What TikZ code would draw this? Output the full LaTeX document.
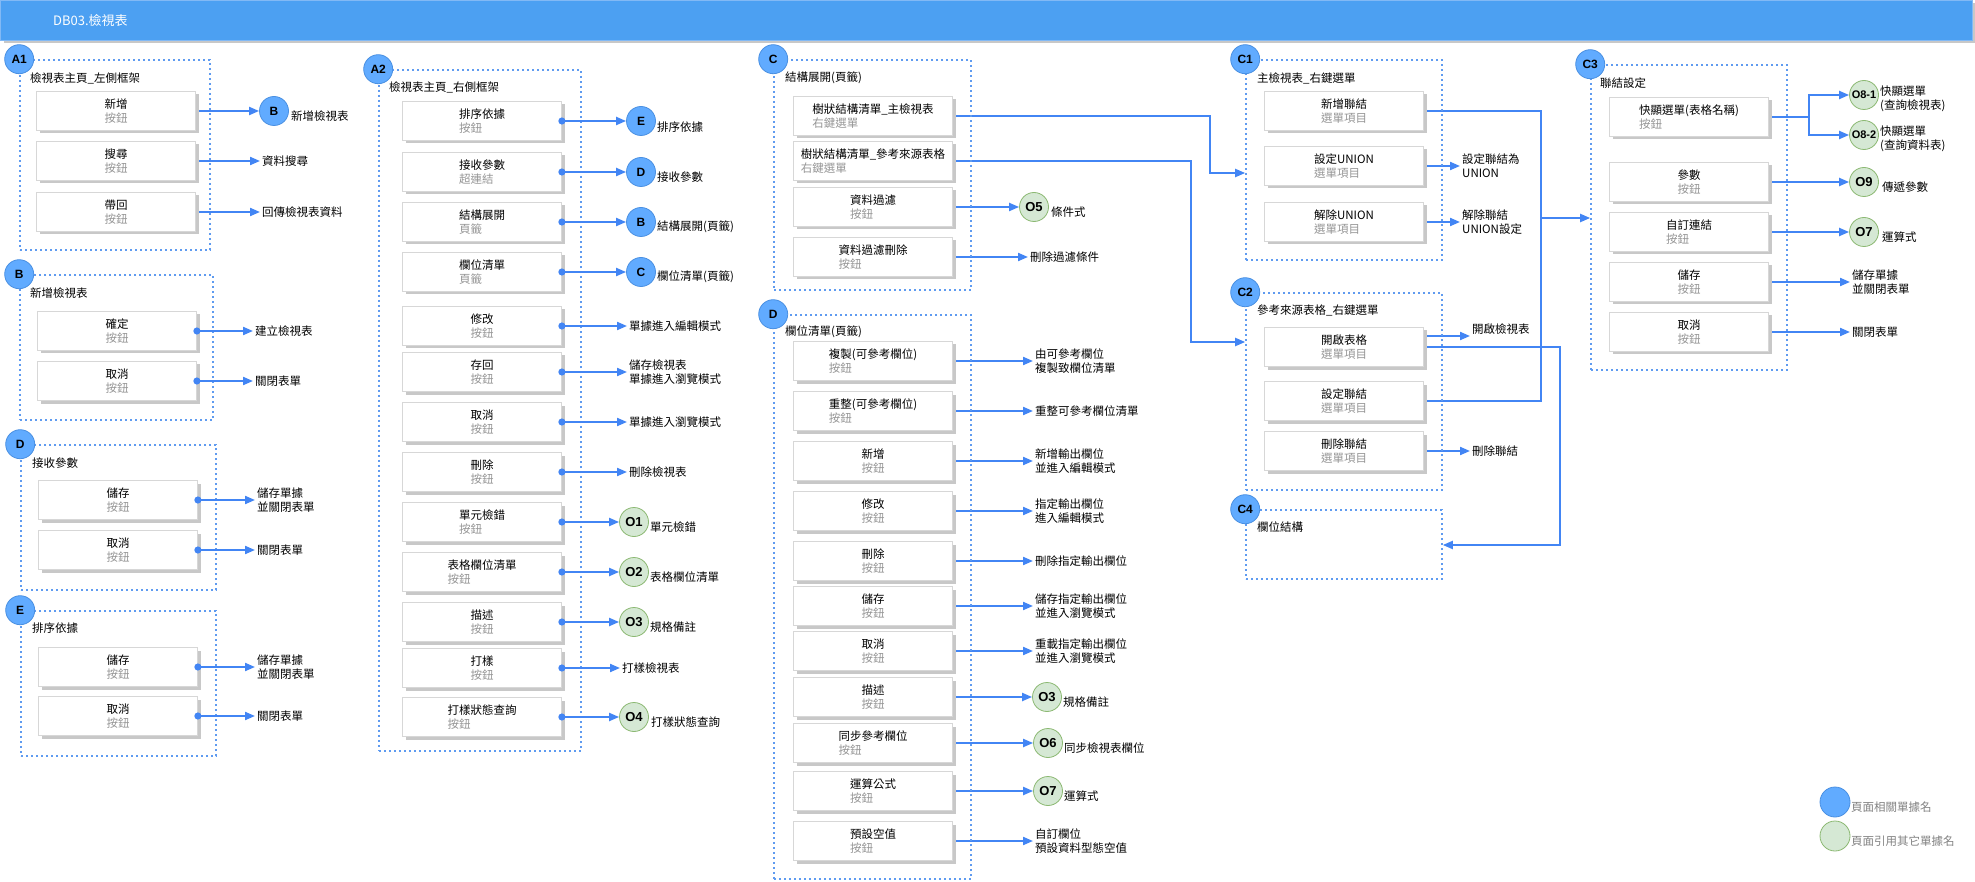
\documentclass[tikz,border=0pt]{standalone}
\usepackage{fontspec}
\setmainfont{Noto Sans CJK TC}
\newfontfamily\circfont{Liberation Sans}
\usetikzlibrary{arrows.meta,shadows,fit,calc}
\pgfdeclarelayer{background}
\pgfsetlayers{background,main}
\definecolor{hdrblue}{RGB}{76,160,242}
\definecolor{hdredge}{RGB}{130,185,245}
\definecolor{grpblue}{RGB}{95,155,240}
\definecolor{cblue}{RGB}{97,171,255}
\definecolor{cblueedge}{RGB}{74,144,226}
\definecolor{cgreen}{RGB}{213,232,212}
\definecolor{cgreenedge}{RGB}{140,185,115}
\definecolor{connc}{RGB}{66,133,244}
\definecolor{boxedge}{RGB}{215,215,215}
\definecolor{boxshadow}{RGB}{200,200,200}
\definecolor{subgray}{RGB}{150,150,150}
\definecolor{leggray}{RGB}{130,130,130}
\tikzset{
  every node/.style={font=\fontsize{11.5}{14}\selectfont},
  grp/.style={draw=grpblue, line width=1.6pt, dash pattern=on 1.6pt off 3.4pt, inner sep=0pt},
  btn/.style={draw=boxedge, fill=white, line width=0.8pt, minimum width=159pt, minimum height=39pt, inner sep=1pt, align=left,
     drop shadow={shadow xshift=3pt, shadow yshift=-3pt, fill=boxshadow, opacity=1}},
  bcirc/.style={circle, draw=cblueedge, fill=cblue, line width=0.8pt, minimum size=29pt, inner sep=0pt, font=\circfont\bfseries\fontsize{12}{12}\selectfont},
  gcirc/.style={circle, draw=cgreenedge, fill=cgreen, line width=0.8pt, minimum size=29pt, inner sep=0pt, font=\circfont\bfseries\fontsize{13}{13}\selectfont},
  ttl/.style={anchor=west, inner sep=0pt},
  lbl/.style={anchor=west, inner xsep=2pt, inner ysep=0pt, align=left},
  conn/.style={draw=connc, line width=2pt, shorten <=-3.5pt, {Circle[length=7pt]}-{Triangle[length=10pt,width=8pt]}},
  connto/.style={draw=connc, line width=2pt, -{Triangle[length=10pt,width=8pt]}},
  dotline/.style={draw=connc, line width=2pt, shorten <=-3.5pt, {Circle[length=7pt]}-},
  connline/.style={draw=connc, line width=2pt},
}
\newcommand\mkbtn[5]{\node[btn] (#1) at (#2,#3) {#4\\\textcolor{subgray}{#5}};}
\begin{document}
\begin{tikzpicture}[x=1pt,y=-1pt]
\useasboundingbox (0,0) rectangle (1975,882);
\begin{pgfonlayer}{background}
\fill[white] (0,0) rectangle (1975,882);
\end{pgfonlayer}
% header
\fill[boxshadow] (4,3) rectangle (1975,43);
\node[draw=hdredge, fill=hdrblue, anchor=north west, minimum width=1972pt, minimum height=40pt, inner sep=0pt] (hdr) at (0,0) {};
\node[anchor=west, text=white, font=\fontsize{13}{15}\selectfont, inner sep=0pt] (hdrtxt) at (53,21) {DB03.檢視表};

% groups
\node[grp, fit={(20,60) (210,250)}] (gA1) {};
\node[grp, fit={(20,275) (213,420)}] (gB) {};
\node[grp, fit={(21,445) (216,590)}] (gD) {};
\node[grp, fit={(21,611) (216,756)}] (gE) {};
\node[grp, fit={(379,70) (581,751)}] (gA2) {};
\node[grp, fit={(774,60) (971,290)}] (gC) {};
\node[grp, fit={(774,315) (971,879)}] (gDD) {};
\node[grp, fit={(1246,60) (1442,260)}] (gC1) {};
\node[grp, fit={(1246,293) (1442,490)}] (gC2) {};
\node[grp, fit={(1246,510) (1442,579)}] (gC4) {};
\node[grp, fit={(1591,65) (1787,370)}] (gC3) {};

\node[bcirc] (hA1) at (gA1.north west) {A1};
\node[bcirc] (hB) at (gB.north west) {B};
\node[bcirc] (hD) at (gD.north west) {D};
\node[bcirc] (hE) at (gE.north west) {E};
\node[bcirc] (hA2) at (gA2.north west) {A2};
\node[bcirc] (hC) at (gC.north west) {C};
\node[bcirc] (hDD) at (gDD.north west) {D};
\node[bcirc] (hC1) at (gC1.north west) {C1};
\node[bcirc] (hC2) at (gC2.north west) {C2};
\node[bcirc] (hC4) at (gC4.north west) {C4};
\node[bcirc] (hC3) at (gC3.north west) {C3};

\node[ttl] (tA1) at (30,78) {檢視表主頁\_左側框架};
\node[ttl] (tB) at (30,293) {新增檢視表};
\node[ttl] (tD) at (32,463) {接收參數};
\node[ttl] (tE) at (32,628) {排序依據};
\node[ttl] (tA2) at (389,87) {檢視表主頁\_右側框架};
\node[ttl] (tC) at (785,78) {結構展開(頁籤)};
\node[ttl] (tDD) at (785,332) {欄位清單(頁籤)};
\node[ttl] (tC1) at (1257,78) {主檢視表\_右鍵選單};
\node[ttl] (tC2) at (1257,310) {參考來源表格\_右鍵選單};
\node[ttl] (tC4) at (1257,527) {欄位結構};
\node[ttl] (tC3) at (1600,83) {聯結設定};

% ---------- A1
\mkbtn{a1n}{116}{111}{新增}{按鈕}
\mkbtn{a1s}{116}{161}{搜尋}{按鈕}
\mkbtn{a1r}{116}{212}{帶回}{按鈕}
\node[bcirc] (tB1) at (274,111) {B};
\node[lbl] (la1n) at (289,116) {新增檢視表};
\node[lbl] (la1s) at (260,161) {資料搜尋};
\node[lbl] (la1r) at (260,212) {回傳檢視表資料};
\begin{pgfonlayer}{background}
\draw[conn] (a1n.east) -- (tB1.west);
\draw[conn] (a1s.east) -- (la1s.west);
\draw[conn] (a1r.east) -- (la1r.west);
\end{pgfonlayer}

% ---------- B
\mkbtn{bok}{117}{331}{確定}{按鈕}
\mkbtn{bcn}{117}{381}{取消}{按鈕}
\node[lbl] (lbok) at (253,331) {建立檢視表};
\node[lbl] (lbcn) at (253,381) {關閉表單};
\draw[conn] (bok.east) -- (lbok.west);
\draw[conn] (bcn.east) -- (lbcn.west);

% ---------- D (left)
\mkbtn{dsv}{118}{500}{儲存}{按鈕}
\mkbtn{dcn}{118}{550}{取消}{按鈕}
\node[lbl] (ldsv) at (255,500) {儲存單據\\並關閉表單};
\node[lbl] (ldcn) at (255,550) {關閉表單};
\draw[conn] (dsv.east) -- (ldsv.west);
\draw[conn] (dcn.east) -- (ldcn.west);

% ---------- E (left)
\mkbtn{esv}{118}{667}{儲存}{按鈕}
\mkbtn{ecn}{118}{716}{取消}{按鈕}
\node[lbl] (lesv) at (255,667) {儲存單據\\並關閉表單};
\node[lbl] (lecn) at (255,716) {關閉表單};
\draw[conn] (esv.east) -- (lesv.west);
\draw[conn] (ecn.east) -- (lecn.west);

% ---------- A2
\mkbtn{a2a}{482}{121}{排序依據}{按鈕}
\mkbtn{a2b}{482}{172}{接收參數}{超連結}
\mkbtn{a2c}{482}{222}{結構展開}{頁籤}
\mkbtn{a2d}{482}{272}{欄位清單}{頁籤}
\mkbtn{a2e}{482}{326}{修改}{按鈕}
\mkbtn{a2f}{482}{372}{存回}{按鈕}
\mkbtn{a2g}{482}{422}{取消}{按鈕}
\mkbtn{a2h}{482}{472}{刪除}{按鈕}
\mkbtn{a2i}{482}{522}{單元檢錯}{按鈕}
\mkbtn{a2j}{482}{572}{表格欄位清單}{按鈕}
\mkbtn{a2k}{482}{622}{描述}{按鈕}
\mkbtn{a2l}{482}{668}{打樣}{按鈕}
\mkbtn{a2m}{482}{717}{打樣狀態查詢}{按鈕}
\node[bcirc] (tE2) at (641,121) {E};
\node[bcirc] (tD2) at (641,172) {D};
\node[bcirc] (tB2) at (641,222) {B};
\node[bcirc] (tC2c) at (641,272) {C};
\node[lbl] (la2a) at (655,127) {排序依據};
\node[lbl] (la2b) at (655,177) {接收參數};
\node[lbl] (la2c) at (655,227) {結構展開(頁籤)};
\node[lbl] (la2d) at (655,277) {欄位清單(頁籤)};
\node[lbl] (la2e) at (627,326) {單據進入編輯模式};
\node[lbl] (la2f) at (627,372) {儲存檢視表\\單據進入瀏覽模式};
\node[lbl] (la2g) at (627,422) {單據進入瀏覽模式};
\node[lbl] (la2h) at (627,472) {刪除檢視表};
\node[gcirc] (tO1) at (634,522) {O1};
\node[gcirc] (tO2) at (634,572) {O2};
\node[gcirc] (tO3) at (634,622) {O3};
\node[lbl] (la2l) at (620,668) {打樣檢視表};
\node[gcirc] (tO4) at (634,717) {O4};
\node[lbl] (la2i) at (648,527) {單元檢錯};
\node[lbl] (la2j) at (648,577) {表格欄位清單};
\node[lbl] (la2k) at (648,627) {規格備註};
\node[lbl] (la2m) at (649,722) {打樣狀態查詢};
\draw[conn] (a2a.east) -- (tE2.west);
\draw[conn] (a2b.east) -- (tD2.west);
\draw[conn] (a2c.east) -- (tB2.west);
\draw[conn] (a2d.east) -- (tC2c.west);
\draw[conn] (a2e.east) -- (la2e.west);
\draw[conn] (a2f.east) -- (la2f.west);
\draw[conn] (a2g.east) -- (la2g.west);
\draw[conn] (a2h.east) -- (la2h.west);
\draw[conn] (a2i.east) -- (tO1.west);
\draw[conn] (a2j.east) -- (tO2.west);
\draw[conn] (a2k.east) -- (tO3.west);
\draw[conn] (a2l.east) -- (la2l.west);
\draw[conn] (a2m.east) -- (tO4.west);

% ---------- C
\mkbtn{ca}{873}{116}{樹狀結構清單\_主檢視表}{右鍵選單}
\mkbtn{cb}{873}{161}{樹狀結構清單\_參考來源表格}{右鍵選單}
\mkbtn{cc}{873}{207}{資料過濾}{按鈕}
\mkbtn{cd}{873}{257}{資料過濾刪除}{按鈕}
\node[gcirc] (tO5) at (1034,207) {O5};
\node[lbl] (lcc) at (1049,212) {條件式};
\node[lbl] (lcd) at (1028,257) {刪除過濾條件};

% ---------- D (middle)
\mkbtn{da}{873}{361}{複製(可參考欄位)}{按鈕}
\mkbtn{db}{873}{411}{重整(可參考欄位)}{按鈕}
\mkbtn{dc}{873}{461}{新增}{按鈕}
\mkbtn{dd}{873}{511}{修改}{按鈕}
\mkbtn{de}{873}{561}{刪除}{按鈕}
\mkbtn{df}{873}{606}{儲存}{按鈕}
\mkbtn{dg}{873}{651}{取消}{按鈕}
\mkbtn{dh}{873}{697}{描述}{按鈕}
\mkbtn{di}{873}{743}{同步參考欄位}{按鈕}
\mkbtn{dj}{873}{791}{運算公式}{按鈕}
\mkbtn{dk}{873}{841}{預設空值}{按鈕}
\node[lbl] (lda) at (1033,361) {由可參考欄位\\複製致欄位清單};
\node[lbl] (ldb) at (1033,411) {重整可參考欄位清單};
\node[lbl] (ldc) at (1033,461) {新增輸出欄位\\並進入編輯模式};
\node[lbl] (ldd) at (1033,511) {指定輸出欄位\\進入編輯模式};
\node[lbl] (lde) at (1033,561) {刪除指定輸出欄位};
\node[lbl] (ldf) at (1033,606) {儲存指定輸出欄位\\並進入瀏覽模式};
\node[lbl] (ldg) at (1033,651) {重載指定輸出欄位\\並進入瀏覽模式};
\node[gcirc] (tO3b) at (1047,697) {O3};
\node[gcirc] (tO6) at (1048,743) {O6};
\node[gcirc] (tO7) at (1048,791) {O7};
\node[lbl] (ldh) at (1061,702) {規格備註};
\node[lbl] (ldi) at (1062,748) {同步檢視表欄位};
\node[lbl] (ldj) at (1062,796) {運算式};
\node[lbl] (ldk) at (1033,841) {自訂欄位\\預設資料型態空值};

% ---------- C1
\mkbtn{c1a}{1344}{111}{新增聯結}{選單項目}
\mkbtn{c1b}{1344}{166}{設定UNION}{選單項目}
\mkbtn{c1c}{1344}{222}{解除UNION}{選單項目}
\node[lbl] (lc1b) at (1460,166) {設定聯結為\\UNION};
\node[lbl] (lc1c) at (1460,222) {解除聯結\\UNION設定};

% ---------- C2
\mkbtn{c2a}{1344}{347}{開啟表格}{選單項目}
\mkbtn{c2b}{1344}{401}{設定聯結}{選單項目}
\mkbtn{c2c}{1344}{451}{刪除聯結}{選單項目}
\node[lbl] (lc2a) at (1470,329) {開啟檢視表};
\node[lbl] (lc2c) at (1470,451) {刪除聯結};
\coordinate (c2up) at ([yshift=11pt]c2a.east);

% ---------- C3
\mkbtn{c3a}{1689}{117}{快顯選單(表格名稱)}{按鈕}
\mkbtn{c3b}{1689}{182}{參數}{按鈕}
\mkbtn{c3c}{1689}{232}{自訂連結}{按鈕}
\mkbtn{c3d}{1689}{282}{儲存}{按鈕}
\mkbtn{c3e}{1689}{332}{取消}{按鈕}
\node[gcirc, font=\circfont\bfseries\fontsize{11}{11}\selectfont] (tO81) at (1864,95) {O8-1};
\node[gcirc, font=\circfont\bfseries\fontsize{11}{11}\selectfont] (tO82) at (1864,135) {O8-2};
\node[gcirc] (tO9) at (1864,182) {O9};
\node[gcirc] (tO7b) at (1864,232) {O7};
\node[lbl] (lc3a1) at (1878,99) {快顯選單\\(查詢檢視表)};
\node[lbl] (lc3a2) at (1878,139) {快顯選單\\(查詢資料表)};
\node[lbl] (lc3b) at (1880,187) {傳遞參數};
\node[lbl] (lc3c) at (1880,237) {運算式};
\node[lbl] (lc3d) at (1850,282) {儲存單據\\並關閉表單};
\node[lbl] (lc3e) at (1850,332) {關閉表單};
\coordinate (fork) at (1809,117);

% connectors with half-hidden dots
\begin{pgfonlayer}{background}
\draw[conn] (ca.east) -| (1210,173) -- (gC1.west |- 0,173);
\draw[conn] (cb.east) -| (1191,342) -- (gC2.west |- 0,342);
\draw[conn] (cc.east) -- (tO5.west);
\draw[conn] (cd.east) -- (lcd.west);
\draw[conn] (da.east) -- (lda.west);
\draw[conn] (db.east) -- (ldb.west);
\draw[conn] (dc.east) -- (ldc.west);
\draw[conn] (dd.east) -- (ldd.west);
\draw[conn] (de.east) -- (lde.west);
\draw[conn] (df.east) -- (ldf.west);
\draw[conn] (dg.east) -- (ldg.west);
\draw[conn] (dh.east) -- (tO3b.west);
\draw[conn] (di.east) -- (tO6.west);
\draw[conn] (dj.east) -- (tO7.west);
\draw[conn] (dk.east) -- (ldk.west);
\draw[conn] (c1a.east) -| (1541,218) -- (gC3.west |- 0,218);
\draw[conn] (c1b.east) -- (lc1b.west);
\draw[conn] (c1c.east) -- (lc1c.west);
\draw[conn] (c2up) -- (c2up -| lc2a.west);
\draw[conn] (c2a.east) -| (1560,545) -- (gC4.east |- 0,545);
\draw[dotline] (c2b.east) -| (1541,218);
\draw[conn] (c2c.east) -- (lc2c.west);
\draw[dotline] (c3a.east) -- (fork);
\draw[connto] (fork) |- (tO81.west);
\draw[connto] (fork) |- (tO82.west);
\draw[conn] (c3b.east) -- (tO9.west);
\draw[conn] (c3c.east) -- (tO7b.west);
\draw[conn] (c3d.east) -- (lc3d.west);
\draw[conn] (c3e.east) -- (lc3e.west);
\end{pgfonlayer}

% legend
\node[bcirc, minimum size=30pt] (legB) at (1835,802) {};
\node[lbl, text=leggray] (legBt) at (1849,807) {頁面相關單據名};
\node[gcirc, minimum size=30pt] (legG) at (1835,836) {};
\node[lbl, text=leggray] (legGt) at (1849,841) {頁面引用其它單據名};
\end{tikzpicture}
\end{document}
